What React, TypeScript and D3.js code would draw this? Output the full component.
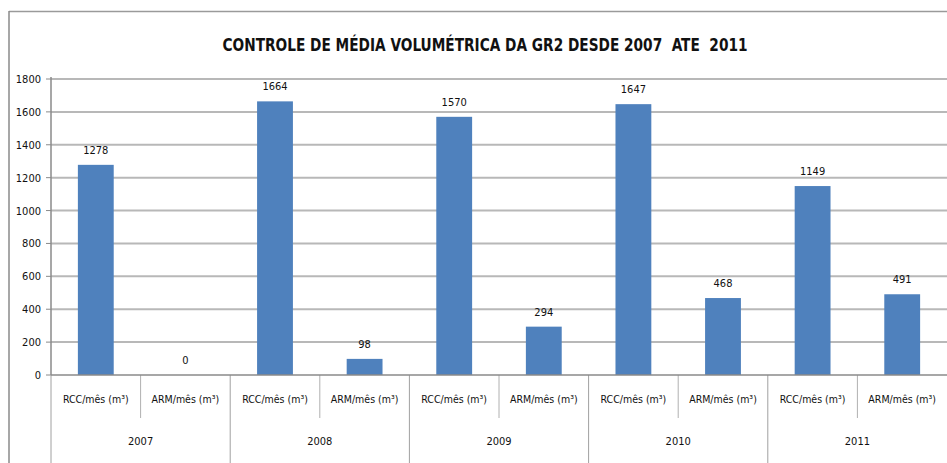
import { scaleBand, scaleLinear } from "d3";

const years = ["2007", "2008", "2009", "2010", "2011"];
const subCats = ["RCC/mês (m³)", "ARM/mês (m³)"];
const rccValues = [1278, 1664, 1570, 1647, 1149];
const armValues = [0, 98, 294, 468, 491];
const yTicks = [0, 200, 400, 600, 800, 1000, 1200, 1400, 1600, 1800];
const title = "CONTROLE DE MÉDIA VOLUMÉTRICA DA GR2 DESDE 2007  ATE  2011";

const W = 947;
const H = 463;
const font = "'DejaVu Sans Condensed', 'DejaVu Sans', sans-serif";

export default function App() {
  const left = 51;
  const right = 947;
  const top = 79;
  const base = 375;

  const rows = years.flatMap((y, i) => [
    { key: `${y}-0`, year: y, sub: subCats[0], value: rccValues[i] },
    { key: `${y}-1`, year: y, sub: subCats[1], value: armValues[i] },
  ]);

  const x = scaleBand<string>()
    .domain(rows.map((r) => r.key))
    .range([left, right])
    .paddingInner(0.6)
    .paddingOuter(0.3);
  const xYear = scaleBand<string>().domain(years).range([left, right]);
  const y = scaleLinear().domain([0, 1800]).range([base, top]);
  const step = x.step();

  return (
    <svg
      width={W}
      height={H}
      style={{ position: "absolute", left: 0, top: 0, display: "block" }}
      fontFamily={font}
    >
      <rect x={0} y={0} width={W} height={H} fill="#fff" />
      {/* chart frame, cut by the window on the right and bottom */}
      <line x1={9} x2={W} y1={11.5} y2={11.5} stroke="#9a9a9a" strokeWidth={1.5} />
      <line x1={9} x2={9} y1={11} y2={H} stroke="#8a8a8a" strokeWidth={1.5} />

      <text
        x={485}
        y={51}
        textAnchor="middle"
        fontSize={18}
        fontWeight="bold"
        fill="#111"
        textLength={525}
        lengthAdjust="spacingAndGlyphs"
        style={{ whiteSpace: "pre" }}
      >
        {title}
      </text>

      {yTicks.map((t) => (
        <g key={t}>
          {t > 0 && (
            <line x1={left} x2={right} y1={y(t)} y2={y(t)} stroke="#b8b8b8" strokeWidth={2} />
          )}
          <line x1={left - 5} x2={left} y1={y(t)} y2={y(t)} stroke="#8a8a8a" strokeWidth={1} />
          <text x={41} y={y(t) + 4} textAnchor="end" fontSize={11} fill="#111">
            {t}
          </text>
        </g>
      ))}

      {rows.map((r) => (
        <g key={r.key}>
          <rect
            x={x(r.key)}
            y={y(r.value)}
            width={x.bandwidth()}
            height={base - y(r.value)}
            fill="#4f81bd"
          />
          <text
            x={(x(r.key) ?? 0) + x.bandwidth() / 2}
            y={y(r.value) - 11}
            textAnchor="middle"
            fontSize={11}
            fill="#111"
          >
            {r.value}
          </text>
          <text
            x={(x(r.key) ?? 0) + x.bandwidth() / 2}
            y={403}
            textAnchor="middle"
            fontSize={10.5}
            fill="#111"
          >
            {r.sub}
          </text>
        </g>
      ))}

      {/* minor separators between sub categories */}
      {years.map((yr) => (
        <line
          key={`m-${yr}`}
          x1={(xYear(yr) ?? 0) + step}
          x2={(xYear(yr) ?? 0) + step}
          y1={base}
          y2={418}
          stroke="#b0b0b0"
          strokeWidth={1}
        />
      ))}
      {/* major separators between years */}
      {years.map((yr) => (
        <line
          key={`M-${yr}`}
          x1={xYear(yr)}
          x2={xYear(yr)}
          y1={base}
          y2={H}
          stroke="#a0a0a0"
          strokeWidth={1}
        />
      ))}
      {years.map((yr) => (
        <text
          key={`t-${yr}`}
          x={(xYear(yr) ?? 0) + xYear.bandwidth() / 2}
          y={445}
          textAnchor="middle"
          fontSize={11}
          fill="#111"
        >
          {yr}
        </text>
      ))}

      {/* axes */}
      <line x1={left} x2={left} y1={top - 2} y2={base} stroke="#8a8a8a" strokeWidth={1.5} />
      <line x1={left} x2={right} y1={base} y2={base} stroke="#8a8a8a" strokeWidth={1.5} />
    </svg>
  );
}
